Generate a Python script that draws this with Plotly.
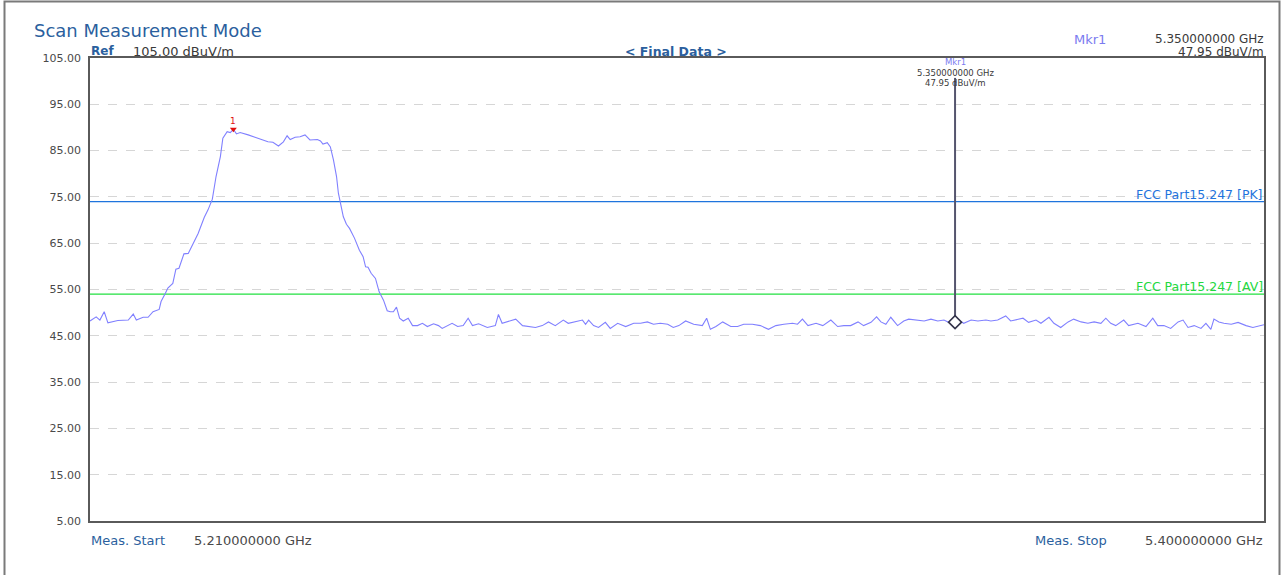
import numpy as np
import plotly.graph_objects as go

# ---------------- data ----------------
start_ghz = 5.21
stop_ghz = 5.40
ref_level = 105.0
bottom_level = 5.0
y_tick_values = [5, 15, 25, 35, 45, 55, 65, 75, 85, 95, 105]

limit_pk = 74.0
limit_av = 54.0
limit_pk_label = "FCC Part15.247 [PK]"
limit_av_label = "FCC Part15.247 [AV]"

mkr_freq_ghz = 5.35
mkr_level = 47.95

trace_freq_mhz = [
    5210.0, 5211.0, 5211.6, 5212.3, 5212.9, 5214.5, 5216.2, 5217.0, 5217.5, 5218.6,
    5219.4, 5220.2, 5221.2, 5221.5, 5222.2, 5222.6, 5223.4, 5223.9, 5224.4, 5225.2,
    5225.9, 5226.7, 5227.5, 5228.5, 5229.1, 5229.8, 5230.4, 5231.1, 5231.5, 5232.2,
    5232.7, 5233.2, 5233.7, 5234.3, 5235.3,
    5235.6, 5236.7, 5237.9, 5238.8, 5239.6, 5240.5, 5241.3, 5241.9, 5242.4, 5243.2,
    5244.0, 5244.8, 5245.6, 5246.8, 5247.3, 5247.7, 5248.4, 5248.9, 5249.4, 5249.9,
    5250.2, 5250.5, 5251.0, 5251.5, 5252.0, 5252.8, 5253.6, 5254.2, 5254.6, 5255.0,
    5255.5, 5256.2, 5256.8, 5257.5, 5258.1, 5258.6, 5259.1, 5259.6, 5260.1,
    5260.7, 5261.5, 5262.2, 5263.0, 5263.8, 5264.6, 5265.6, 5266.4, 5267.0, 5267.8,
    5268.6, 5269.5, 5270.4, 5271.2, 5271.9, 5272.9, 5274.3, 5275.6, 5276.1, 5276.7,
    5277.6, 5278.9, 5280.0, 5281.0, 5282.1, 5283.2, 5284.2, 5285.3, 5286.6, 5287.4,
    5288.2, 5289.7, 5290.2, 5290.7, 5291.5, 5292.3, 5293.4, 5294.2, 5295.4, 5296.7,
    5298.0, 5299.1, 5300.2, 5301.2, 5302.3, 5303.5, 5304.4, 5305.3, 5306.4, 5307.7,
    5309.1, 5309.8, 5310.4, 5311.3, 5312.4, 5313.7, 5314.8, 5315.8, 5317.2, 5318.5,
    5319.8, 5321.0, 5322.3, 5323.7, 5324.5, 5325.3, 5326.2, 5327.5, 5328.6, 5329.9,
    5331.0, 5332.0, 5333.1, 5334.3, 5335.2, 5336.4, 5337.3, 5338.0, 5338.8, 5339.6,
    5340.7, 5341.7, 5342.5, 5343.7, 5345.0, 5346.1, 5347.2, 5348.2, 5349.3, 5350.6,
    5351.4, 5352.6, 5353.7, 5355.0, 5355.8, 5356.9, 5358.2, 5359.0, 5359.8, 5361.0,
    5361.9, 5363.1, 5363.9, 5365.2, 5366.0, 5367.1, 5368.3, 5369.2, 5370.4, 5371.5,
    5372.5, 5373.6, 5374.4, 5375.2, 5376.0, 5377.3, 5378.1, 5379.6, 5380.9, 5382.0,
    5382.8, 5383.8, 5384.9, 5386.1, 5386.9, 5387.7, 5388.7, 5389.8, 5390.6, 5391.4,
    5391.9, 5392.7, 5393.5, 5394.7, 5395.8, 5397.1, 5398.2, 5399.5, 5400.0,
]

trace_level = [
    48.2, 49.1, 48.4, 50.2, 47.8, 48.3, 48.4, 49.7, 48.4, 49.0,
    49.0, 50.2, 50.7, 52.4, 54.2, 55.3, 56.3, 59.4, 59.6, 62.7,
    62.8, 65.0, 67.1, 70.6, 72.2, 74.5, 79.4, 83.7, 87.7, 89.1,
    88.9, 89.6, 88.6, 88.9, 88.6,
    88.4, 87.9, 87.4, 86.9, 86.8, 86.0, 86.9, 88.2, 87.4, 87.9,
    88.0, 88.4, 87.3, 87.4, 87.1, 86.4, 86.7, 85.8, 83.0, 79.4,
    75.8, 73.6, 70.7, 69.1, 68.2, 66.1, 63.5, 62.1, 59.9, 59.8,
    58.5, 57.4, 54.5, 52.7, 50.4, 50.2, 50.2, 51.2, 48.8,
    48.2, 48.8, 47.2, 47.2, 47.7, 47.0, 47.6, 47.2, 46.6, 47.2,
    47.7, 47.0, 47.2, 48.8, 47.2, 47.6, 46.8, 47.2, 49.6, 47.7,
    48.0, 48.6, 47.2, 47.0, 46.8, 47.2, 48.0, 47.2, 48.4, 47.7,
    48.0, 48.4, 47.5, 48.4, 47.2, 46.8, 47.9, 46.6, 47.7, 47.0,
    47.7, 47.7, 48.0, 47.5, 47.7, 47.5, 46.8, 47.2, 48.2, 47.5,
    47.2, 48.8, 46.4, 47.0, 48.0, 47.0, 47.0, 47.5, 47.5, 47.2,
    46.4, 47.2, 47.5, 47.7, 47.5, 48.6, 47.2, 47.7, 47.2, 48.4,
    47.0, 47.2, 47.2, 48.0, 47.2, 47.9, 49.1, 48.0, 47.5, 49.0,
    47.2, 48.2, 48.6, 48.4, 48.2, 48.6, 48.2, 48.4, 47.7, 48.4,
    47.7, 48.4, 48.2, 48.4, 48.2, 48.4, 49.3, 48.2, 48.4, 48.8,
    47.9, 48.4, 47.7, 49.0, 47.7, 46.8, 48.0, 48.6, 48.0, 47.7,
    48.0, 47.7, 48.8, 47.7, 47.2, 48.4, 47.2, 47.7, 47.0, 48.8,
    47.2, 47.2, 46.6, 48.0, 48.4, 46.8, 47.2, 46.6, 47.7, 46.4,
    48.6, 48.0, 47.7, 47.5, 47.9, 47.2, 46.8, 47.2, 47.4,
]

# ---------------- layout helpers ----------------
W, H = 1282, 575
ML, MR, MT, MB = 90, 18, 58, 54
PW = W - ML - MR
PH = H - MT - MB


def px(x):
    return (x - ML) / PW


def py(y):
    return (H - MB - y) / PH


BLUE_TXT = "#2b5f9e"
DARK_TXT = "#3a3a3a"
GRAY_TXT = "#4a4a4a"
MKR_TXT = "#7b7bf0"
FONT = "DejaVu Sans"

freq_ghz = np.array(trace_freq_mhz) / 1000.0
levels = np.array(trace_level)
peak_idx = int(np.argmax(levels))

fig = go.Figure()

# limit lines
fig.add_trace(go.Scatter(x=[start_ghz, stop_ghz], y=[limit_pk, limit_pk], mode="lines",
                         line=dict(color="#1f74dd", width=1.3), hoverinfo="skip", showlegend=False))
fig.add_trace(go.Scatter(x=[start_ghz, stop_ghz], y=[limit_av, limit_av], mode="lines",
                         line=dict(color="#22e040", width=1.3), hoverinfo="skip", showlegend=False))

# measurement trace
fig.add_trace(go.Scatter(x=freq_ghz, y=levels, mode="lines",
                         line=dict(color="#8080ff", width=1.1), showlegend=False))

# marker 1 (vertical line + diamond)
fig.add_trace(go.Scatter(x=[mkr_freq_ghz, mkr_freq_ghz], y=[mkr_level, 100.7], mode="lines",
                         line=dict(color="#55556e", width=2), showlegend=False, hoverinfo="skip"))
fig.add_trace(go.Scatter(x=[mkr_freq_ghz], y=[mkr_level], mode="markers",
                         marker=dict(symbol="diamond", size=10, color="white",
                                     line=dict(color="#33334a", width=1.6)),
                         showlegend=False))

# peak marker
fig.add_trace(go.Scatter(x=[freq_ghz[peak_idx]], y=[levels[peak_idx]], mode="markers",
                         marker=dict(symbol="triangle-down", size=6, color="#e01010"),
                         showlegend=False))

ann = []


def add_text(text, x, y, xanchor="left", size=11, color=DARK_TXT, bold=False, yanchor="middle"):
    ann.append(dict(text=("<b>%s</b>" % text) if bold else text, x=px(x), y=py(y),
                    xref="paper", yref="paper", xanchor=xanchor, yanchor=yanchor,
                    showarrow=False, borderpad=0,
                    font=dict(family=FONT, size=size, color=color)))


def add_mkr_text(text, y, color):
    ann.append(dict(text=text, x=mkr_freq_ghz, y=py(y), xref="x", yref="paper",
                    xanchor="center", yanchor="middle", showarrow=False, borderpad=0,
                    font=dict(family=FONT, size=8.5, color=color)))


add_text("Scan Measurement Mode", 33, 30, size=18, color=BLUE_TXT)
add_text("Ref", 90, 51, size=12, color=BLUE_TXT, bold=True)
add_text("%.2f dBuV/m" % ref_level, 132, 51, size=13, color=DARK_TXT)
add_text("&lt; Final Data &gt;", 676, 51, xanchor="center", size=12.5, color=BLUE_TXT, bold=True)
add_text("Mkr1", 1073, 39, size=13, color=MKR_TXT)
add_text("%.9f GHz" % mkr_freq_ghz, 1265, 39, xanchor="right", size=12, color=DARK_TXT)
add_text("%.2f dBuV/m" % mkr_level, 1265, 52, xanchor="right", size=12, color=DARK_TXT)

# marker label above line
add_mkr_text("Mkr1", 62, MKR_TXT)
add_mkr_text("%.9f GHz" % mkr_freq_ghz, 72.5, DARK_TXT)
add_mkr_text("%.2f dBuV/m" % mkr_level, 83, DARK_TXT)

# limit labels
ann.append(dict(text=limit_pk_label, x=1.0, y=limit_pk, xref="paper", yref="y", xanchor="right",
                yanchor="bottom", showarrow=False, yshift=-1, borderpad=0,
                font=dict(family=FONT, size=12.5, color="#1f74dd")))
ann.append(dict(text=limit_av_label, x=1.0, y=limit_av, xref="paper", yref="y", xanchor="right",
                yanchor="bottom", showarrow=False, yshift=-1, borderpad=0,
                font=dict(family=FONT, size=12.5, color="#22d840")))

# peak label
ann.append(dict(text="1", x=freq_ghz[peak_idx], y=levels[peak_idx], xref="x", yref="y",
                xanchor="center", yanchor="bottom", yshift=2, showarrow=False, borderpad=0,
                font=dict(family=FONT, size=9, color="#e01010")))

# bottom texts
add_text("Meas. Start", 90, 540, size=13, color=BLUE_TXT)
add_text("%.9f GHz" % start_ghz, 193, 540, size=13, color=GRAY_TXT)
add_text("Meas. Stop", 1034, 540, size=13, color=BLUE_TXT)
add_text("%.9f GHz" % stop_ghz, 1264, 540, xanchor="right", size=13, color=GRAY_TXT)

fig.update_layout(
    width=W, height=H,
    margin=dict(l=ML, r=MR, t=MT, b=MB, pad=0),
    paper_bgcolor="white", plot_bgcolor="white",
    annotations=ann,
    shapes=[dict(type="rect", xref="paper", yref="paper",
                 x0=px(4.5), x1=px(1279.5), y0=py(580), y1=py(1.5),
                 line=dict(color="#7a7a7a", width=2), fillcolor="rgba(0,0,0,0)", layer="below")],
    xaxis=dict(range=[start_ghz, stop_ghz], showgrid=False, zeroline=False, showticklabels=False,
               ticks="", showline=True, mirror=True, linecolor="#5a5a5a", linewidth=1.5),
    yaxis=dict(range=[bottom_level, ref_level], tickvals=y_tick_values, tickformat=".2f",
               showgrid=True, gridcolor="#d6d6d6", griddash="dash", gridwidth=1,
               zeroline=False, ticks="", showline=True, mirror=True, linecolor="#5a5a5a",
               linewidth=1.5, tickfont=dict(family=FONT, size=11, color=GRAY_TXT), ticklabelstandoff=5),
)

fig.write_html("out.html", config={"displayModeBar": False},
               post_script="document.body.style.margin='0px';")
